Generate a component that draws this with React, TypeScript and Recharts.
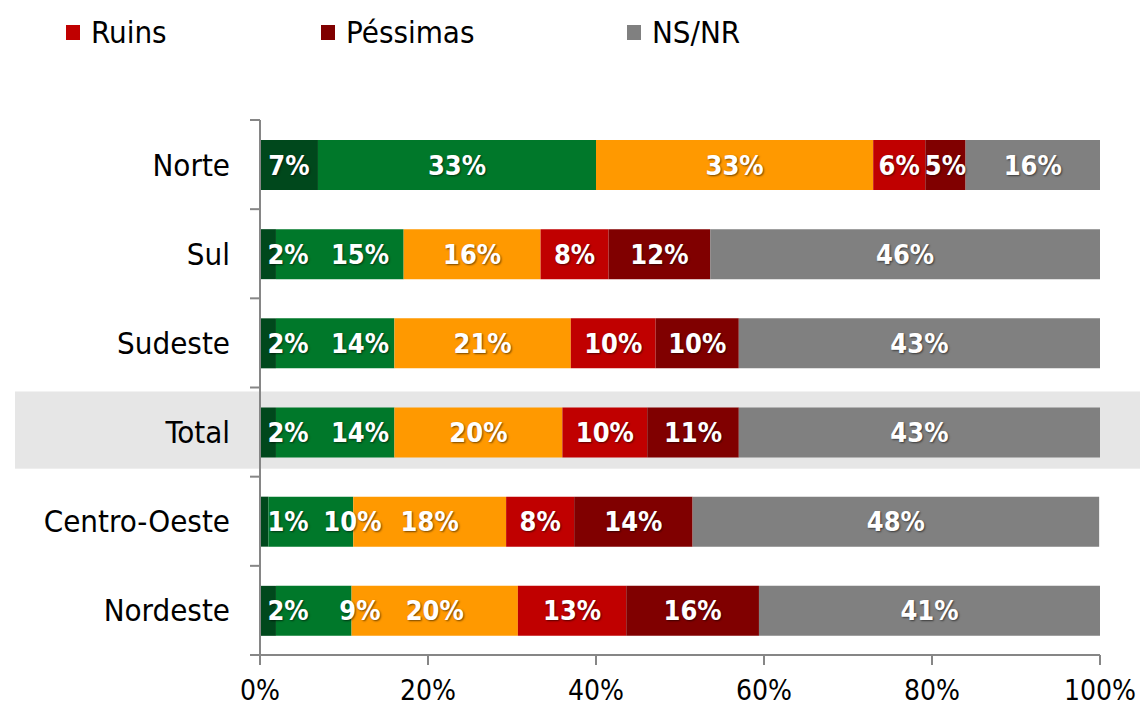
import { BarChart, Bar, XAxis, YAxis, LabelList, Legend, ReferenceArea } from 'recharts';

const regions = ['Norte', 'Sul', 'Sudeste', 'Total', 'Centro-Oeste', 'Nordeste'];
const otimas = [6.9, 1.9, 1.9, 1.9, 1.0, 1.9];
const boas = [33.1, 15.2, 14.1, 14.1, 10.1, 9.0];
const regulares = [33.0, 16.3, 21.0, 20.0, 18.2, 19.8];
const ruins = [6.2, 8.1, 10.1, 10.1, 8.1, 12.9];
const pessimas = [4.8, 12.1, 9.9, 10.9, 14.1, 15.8];
const nsnr = [16.0, 46.4, 43.0, 43.0, 48.4, 40.6];
const xTicks = [0, 20, 40, 60, 80, 100];

const seriesKeys = ['otimas', 'boas', 'regulares', 'ruins', 'pessimas', 'nsnr'];
const seriesNames = ['Ótimas', 'Boas', 'Regulares', 'Ruins', 'Péssimas', 'NS/NR'];
const seriesColors = ['#00481c', '#00782a', '#ff9900', '#c00000', '#800000', '#808080'];
// only the last three series appear in the (cropped) legend
const legendNames = ['Ruins', 'Péssimas', 'NS/NR'];

const data = regions.map((region, i) => ({
  region,
  otimas: otimas[i],
  boas: boas[i],
  regulares: regulares[i],
  ruins: ruins[i],
  pessimas: pessimas[i],
  nsnr: nsnr[i],
}));

const FONT = '"DejaVu Sans Condensed", "DejaVu Sans", sans-serif';
const W = 1140;
const H = 706;
const MARGIN = { top: 120, right: 40, left: 0, bottom: 0 };
const X_AXIS_H = 51;
const band = (H - MARGIN.top - MARGIN.bottom - X_AXIS_H) / regions.length;
const legendWidths = [255, 306, 120];

function CategoryTick(props: any) {
  const { x, y, payload, index } = props;
  const axisX = x + 30;
  return (
    <g>
      <text x={x} y={y} textAnchor="end" dominantBaseline="central" fontSize={31} fill="#000" fontFamily={FONT}>
        {payload.value}
      </text>
      <line x1={axisX - 10} x2={axisX} y1={y - band / 2} y2={y - band / 2} stroke="#868686" strokeWidth={2} />
      {index === regions.length - 1 && (
        <line x1={axisX - 10} x2={axisX} y1={y + band / 2} y2={y + band / 2} stroke="#868686" strokeWidth={2} />
      )}
    </g>
  );
}

function makeLabel(series: number) {
  return (props: any) => {
    const { x, y, width, height, value } = props;
    let cx = x + width / 2;
    if (series === 0) cx = x + Math.max(width / 2, 28);
    if (series === 1) cx = Math.max(cx, x + 84);
    return (
      <text
        x={cx}
        y={y + height / 2}
        textAnchor="middle"
        dominantBaseline="central"
        fill="#fff"
        fontSize={27}
        fontWeight="bold"
        fontFamily={FONT}
        style={{ textShadow: '1px 1px 2px rgba(0,0,0,0.55)' }}
      >
        {`${Math.round(Number(value))}%`}
      </text>
    );
  };
}

function HighlightBand(props: any) {
  const { x, y, width, height } = props;
  return <rect x={x - 245} y={y + 4} width={width + 285} height={height - 12} fill="#e6e6e6" />;
}

function LegendContent() {
  return (
    <div style={{ display: 'flex', fontFamily: FONT, fontSize: 31, color: '#000', lineHeight: '36px' }}>
      {legendNames.map((name, i) => (
        <div key={name} style={{ display: 'flex', alignItems: 'center', width: legendWidths[i] }}>
          <span
            style={{
              display: 'inline-block',
              width: 14,
              height: 15,
              background: seriesColors[seriesNames.indexOf(name)],
              marginRight: 11,
            }}
          />
          <span>{name}</span>
        </div>
      ))}
    </div>
  );
}

export default function App() {
  return (
    <div style={{ position: 'absolute', left: 0, top: 0, width: W, height: H, background: '#fff' }}>
      <BarChart width={W} height={H} data={data} layout="vertical" margin={MARGIN}>
        <ReferenceArea y1="Total" y2="Total" ifOverflow="visible" shape={<HighlightBand />} />
        <XAxis
          type="number"
          domain={[0, 100]}
          ticks={xTicks}
          tickFormatter={(v: number) => `${v}%`}
          height={X_AXIS_H}
          tickSize={10}
          tickMargin={15}
          stroke="#868686"
          strokeWidth={2}
          tick={{ fontSize: 28, fill: '#000', fontFamily: FONT }}
        />
        <YAxis
          type="category"
          dataKey="region"
          width={260}
          tickSize={10}
          tickMargin={20}
          tickLine={false}
          stroke="#868686"
          strokeWidth={2}
          tick={<CategoryTick />}
          interval={0}
        />
        <Legend
          verticalAlign="middle"
          align="center"
          layout="horizontal"
          content={<LegendContent />}
          wrapperStyle={{ top: 14, left: 66, width: 'auto' }}
        />
        {seriesKeys.map((key, i) => (
          <Bar
            key={key}
            dataKey={key}
            name={seriesNames[i]}
            stackId="a"
            fill={seriesColors[i]}
            barSize={50}
            isAnimationActive={false}
          >
            <LabelList dataKey={key} content={makeLabel(i)} />
          </Bar>
        ))}
      </BarChart>
    </div>
  );
}
